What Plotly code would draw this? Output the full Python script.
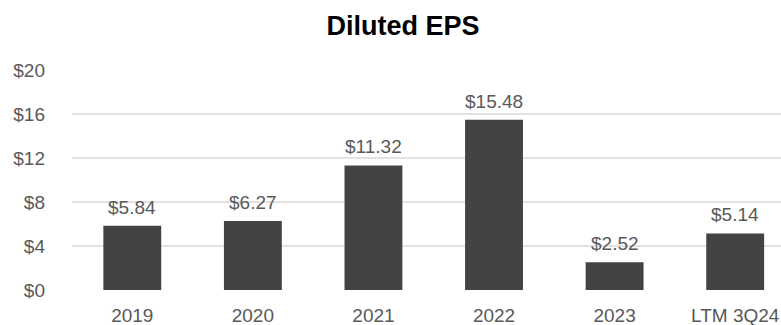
import plotly.graph_objects as go

# Diluted earnings per share by period
periods = ["2019", "2020", "2021", "2022", "2023", "LTM 3Q24"]
eps = [5.84, 6.27, 11.32, 15.48, 2.52, 5.14]
y_ticks = [0, 4, 8, 12, 16, 20]
y_tick_labels = [f"${v}" for v in y_ticks]

W, H = 781, 325
left, top, bottom = 72, 70, 35
FONT = "Liberation Sans, Arial, sans-serif"
GREY_TEXT = "#595959"

fig = go.Figure(
    go.Bar(
        x=list(range(len(periods))),
        y=eps,
        width=0.48,
        marker=dict(color="#434343", line=dict(width=0)),
        hoverinfo="skip",
    )
)

# value labels sitting above each bar
for i, v in enumerate(eps):
    fig.add_annotation(
        x=i,
        y=v,
        text=f"${v:.2f}",
        showarrow=False,
        xanchor="center",
        yanchor="bottom",
        yshift=6,
        font=dict(family=FONT, size=19, color=GREY_TEXT),
    )

fig.update_layout(
    width=W,
    height=H,
    margin=dict(l=left, r=0, t=top, b=bottom),
    plot_bgcolor="white",
    paper_bgcolor="white",
    showlegend=False,
    title=dict(
        text="<b>Diluted EPS</b>",
        x=403 / W,
        xref="container",
        xanchor="center",
        y=1 - 26 / H,
        yref="container",
        yanchor="middle",
        font=dict(family=FONT, size=27, color="#000000"),
    ),
    xaxis=dict(
        range=[-0.5, 5.38],
        tickmode="array",
        tickvals=list(range(len(periods))),
        ticktext=periods,
        showgrid=False,
        zeroline=False,
        showline=False,
        ticks="",
        ticklabelstandoff=12,
        tickfont=dict(family=FONT, size=19, color=GREY_TEXT),
    ),
    yaxis=dict(
        range=[0, 20],
        tickmode="array",
        tickvals=y_ticks,
        ticktext=y_tick_labels,
        showgrid=True,
        gridcolor="#e2e2e2",
        gridwidth=1.5,
        zeroline=False,
        showline=False,
        ticks="",
        ticklabelstandoff=26,
        tickfont=dict(family=FONT, size=19, color=GREY_TEXT),
    ),
)

fig.write_html("out.html")
